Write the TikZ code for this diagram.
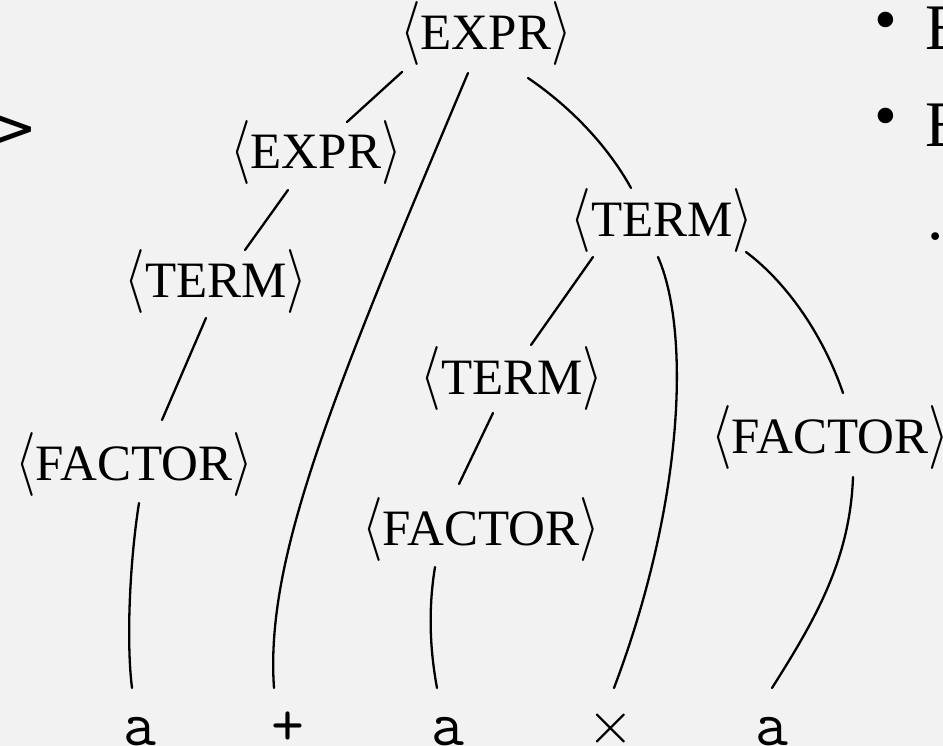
\documentclass[tikz,border=0pt]{standalone}
\usepackage{fontspec}
\setmainfont{Liberation Serif}
\newfontfamily\djsans{DejaVu Sans}
\definecolor{bg}{HTML}{F2F2F2}
\tikzset{
  nt/.style={font=\fontsize{51}{60}\selectfont, inner sep=0pt, anchor=base},
  tm/.style={font=\ttfamily\fontsize{64}{70}\selectfont, inner sep=0pt, anchor=base},
  edge/.style={line width=2.3pt, line cap=round},
  bul/.style={font=\fontsize{65}{70}\selectfont, inner sep=0pt}
}
\newcommand{\nterm}[1]{\scalebox{5.3}[6.4]{\fontsize{10}{12}\selectfont$\langle$}#1\scalebox{5.3}[6.4]{\fontsize{10}{12}\selectfont$\rangle$}}
\begin{document}
\begin{tikzpicture}[x=1pt,y=-1pt]
\fill[bg] (0,0) rectangle (943,746);
\useasboundingbox (0,0) rectangle (943,746);
% nonterminals
\node[nt] (e1) at (486,50) {\nterm{EXPR}};
\node[nt] (e2) at (316,169) {\nterm{EXPR}};
\node[nt] (t1) at (216,298) {\nterm{TERM}};
\node[nt] (f1) at (134,480) {\nterm{FACTOR}};
\node[nt] (t2) at (662,237) {\nterm{TERM}};
\node[nt] (t3) at (512,394) {\nterm{TERM}};
\node[nt] (f2) at (481,545) {\nterm{FACTOR}};
\node[nt] (f3) at (830,453) {\nterm{FACTOR}};
% terminals
\node[tm] (a1) at (140,745) {a};
\node[tm] (pl) at (288,745) {+};
\node[tm] (a3) at (448,745) {a};
\node[tm] (ti) at (611,745) {\raisebox{2pt}{\scalebox{6}{\fontsize{10}{12}\selectfont$\times$}}};
\node[tm] (a5) at (772,745) {a};
% connectors
\draw[edge] ([shift={(-84,22)}]e1.base) -- ([shift={(31,-47)}]e2.base);
\draw[edge] ([shift={(-28,21)}]e2.base) -- ([shift={(29,-48)}]t1.base);
\draw[edge] ([shift={(-10,20)}]t1.base) -- ([shift={(28,-60)}]f1.base);
\draw[edge] ([shift={(5,23)}]f1.base) .. controls +(-9,57) and +(-6,-48) .. ([shift={(-8,-57)}]a1.base);
\draw[edge] ([shift={(-18,23)}]e1.base) .. controls +(-138,327) and +(-9,-128) .. ([shift={(-14,-57)}]pl.base);
\draw[edge] ([shift={(42,28)}]e1.base) .. controls +(47,32) and +(-21,-38) .. ([shift={(-31,-49)}]t2.base);
\draw[edge] ([shift={(-69,20)}]t2.base) -- ([shift={(19,-49)}]t3.base);
\draw[edge] ([shift={(-19,19)}]t3.base) -- ([shift={(-22,-61)}]f2.base);
\draw[edge] ([shift={(-46,22)}]f2.base) .. controls +(-7,43) and +(-7,-38) .. ([shift={(-11,-57)}]a3.base);
\draw[edge] ([shift={(-4,20)}]t2.base) .. controls +(32,73) and +(71,-188) .. ([shift={(3,-57)}]ti.base);
\draw[edge] ([shift={(84,15)}]t2.base) .. controls +(44,33) and +(-18,-53) .. ([shift={(13,-60)}]f3.base);
\draw[edge] ([shift={(23,24)}]f3.base) .. controls +(-3,83) and +(43,-68) .. ([shift={(0,-57)}]a5.base);
% slide fragments
\node[font=\djsans\fontsize{60}{70}\selectfont, inner sep=0pt, anchor=base west] (gt) at (-13,149) {>};
\node[bul, anchor=center] (b1) at (886,27) {\textbullet};
\node[bul, anchor=base west] (b1t) at (925,50) {E};
\node[bul, anchor=center] (b2) at (886,123) {\textbullet};
\node[bul, anchor=base west] (b2t) at (925,147) {E};
\node[bul, anchor=base west] (b3) at (927,240) {.};
\end{tikzpicture}
\end{document}
